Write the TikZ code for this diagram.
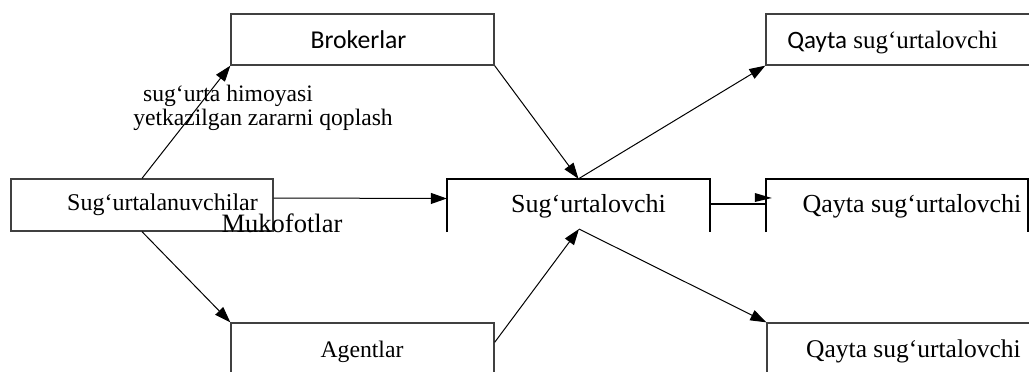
\documentclass[tikz,border=0pt]{standalone}
\usepackage{fontspec}
\setmainfont{Liberation Serif}
\newfontfamily\calibri{Carlito}
\usetikzlibrary{arrows.meta}
\newcommand\fsz[1]{\fontsize{#1}{#1}\selectfont}
\begin{document}
\begin{tikzpicture}[x=1pt,y=-1pt,
  thinbox/.style={draw=black!75, line width=1.3pt, inner sep=0pt},
  thickbox/.style={draw=none, inner sep=0pt},
  boxtext/.style={inner sep=0pt, anchor=base},
  flow/.style={line width=1pt, -{Triangle[length=16pt,width=11pt]}},
  ]
\useasboundingbox (0,0) rectangle (1029,372);

% boxes (outlines)
\node[thinbox, minimum width=262pt, minimum height=52pt] (ins) at (142,205) {};
\node[thinbox, minimum width=263pt, minimum height=51pt] (brk) at (362.5,39.5) {};
\node[thinbox, minimum width=263pt, minimum height=100pt] (agt) at (362.5,373) {};
\node[thinbox, minimum width=280pt, minimum height=51pt] (re1) at (906,39.5) {};
\node[thinbox, minimum width=280pt, minimum height=100pt] (re3) at (907,373) {};
\node[thickbox, minimum width=263pt, minimum height=53pt] (ser) at (578.5,205.5) {};
\node[thickbox, minimum width=262pt, minimum height=53pt] (re2) at (897,205.5) {};
\draw[line width=2pt] (ser.south west) -- (ser.north west) -- (ser.north east) -- (ser.south east);
\draw[line width=2pt] (re2.south west) -- (re2.north west) -- (re2.north east) -- (re2.south east);

% box texts
\node[boxtext, font=\fsz{24}] (insT) at (162.5,210) {Sug‘urtalanuvchilar};
\node[boxtext, font=\calibri\fsz{25.7}] (brkT) at (358.5,48) {Brokerlar};
\node[boxtext, font=\fsz{23.7}] (agtT) at (362,357) {Agentlar};
\node[boxtext, font=\fsz{26}] (serT) at (588.5,212) {Sug‘urtalovchi};
\node[boxtext, font=\fsz{26}] (re2T) at (912,212) {Qayta sug‘urtalovchi};
\node[boxtext, font=\fsz{25}] (re1T) at (892.5,48) {{\calibri Qayta} sug‘urtalovchi};
\node[boxtext, font=\fsz{25.5}] (re3T) at (913.5,357) {Qayta sug‘urtalovchi};

% edge labels
\node[boxtext, font=\fsz{23.6}] (lab1) at (228,101) {sug‘urta himoyasi};
\node[boxtext, font=\fsz{23.6}] (lab2) at (263,125) {yetkazilgan zararni qoplash};
\node[boxtext, font=\fsz{26.5}] (lab3) at (282,232) {Mukofotlar};

% connectors
\coordinate (serB) at (579,229);
\draw[flow] (ins.north) -- (brk.south west);
\draw[flow] (brk.south east) -- (ser.north);
\draw[flow] (ser.north) -- (re1.south west);
\draw[flow] ([yshift=7pt]ins.east) -- ([yshift=7pt]ser.west);
\draw[flow] (ins.south) -- (agt.north west);
\draw[flow] ([yshift=-20pt]agt.north east) -- (serB);
\draw[flow] (serB) -- (re3.north west);
\draw[line width=2pt] (ser.east |- 0,204) -- (re2.west |- 0,204);
\fill ([xshift=-11pt,yshift=12.5pt]re2.west) -- ([xshift=6pt,yshift=7.5pt]re2.west) -- ([xshift=-11pt,yshift=3.5pt]re2.west) -- cycle;
\end{tikzpicture}
\end{document}
